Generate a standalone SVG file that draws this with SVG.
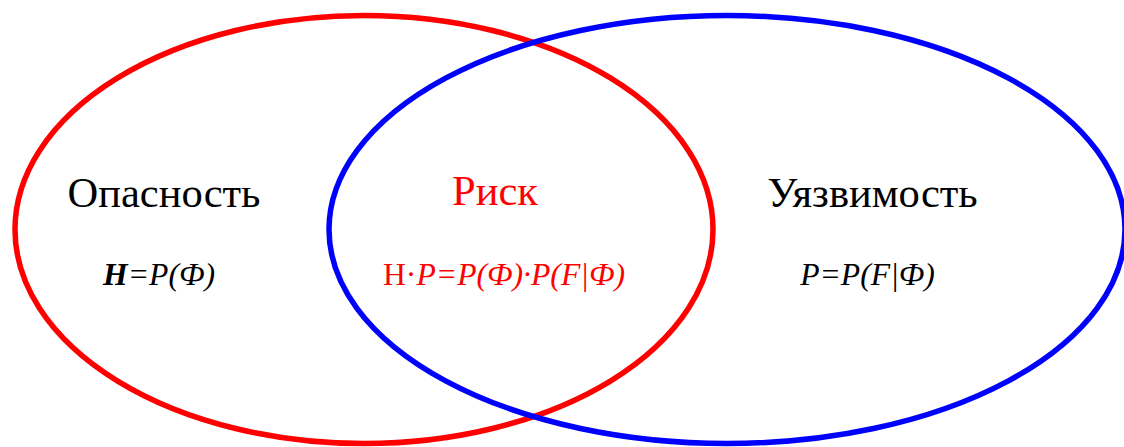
<svg xmlns="http://www.w3.org/2000/svg" width="1124" height="447" viewBox="0 0 1124 447">
<style>
.lbl{font-family:"Liberation Serif","Times New Roman",serif;font-size:42.5px;text-anchor:middle}
.f{font-family:"Liberation Serif","Times New Roman",serif;font-size:31.7px;text-anchor:middle;font-style:italic}
.up{font-style:normal}
</style>
<rect width="1124" height="447" fill="#fff"/>
<g id="connectors"></g>
<g id="hazard">
<ellipse cx="364" cy="229.5" rx="349" ry="214" fill="none" stroke="#ff0000" stroke-width="5.5"/>
<text class="lbl" x="164" y="207" fill="#000">Опасность</text>
<text class="f" x="159" y="285" fill="#000"><tspan font-weight="bold">H</tspan>=P(Ф)</text>
</g>
<g id="vulnerability">
<ellipse cx="727" cy="229.5" rx="398" ry="214" fill="none" stroke="#0000ff" stroke-width="5.5"/>
<text class="lbl" x="872.5" y="207" fill="#000">Уязвимость</text>
<text class="f" x="867.5" y="285" fill="#000">P=P(F|Ф)</text>
</g>
<g id="risk">
<text class="lbl" x="495" y="205" fill="#ff0000">Риск</text>
<text class="f" x="504" y="285" fill="#ff0000"><tspan class="up">Н·</tspan>P=P(Ф)·P(F|Ф)</text>
</g>
</svg>
